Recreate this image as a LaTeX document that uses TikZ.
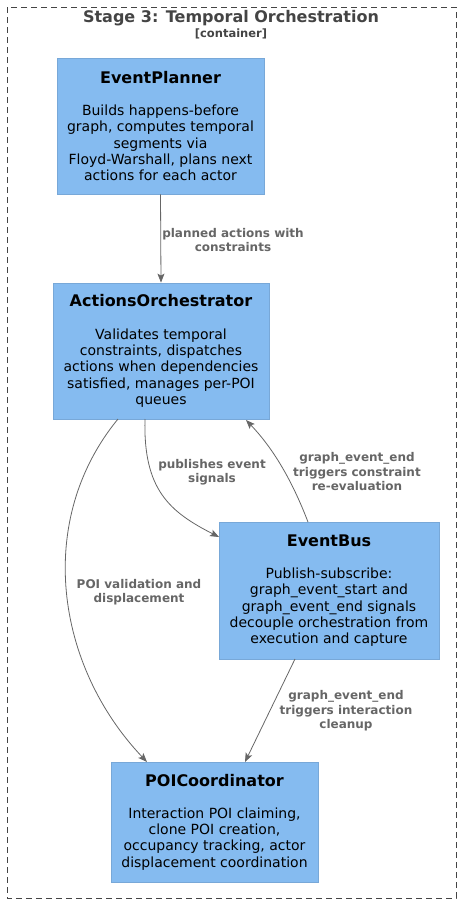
\documentclass[tikz,border=0pt]{standalone}
\usepackage{fontspec}
\setmainfont{DejaVu Sans}
\usetikzlibrary{arrows.meta}
\definecolor{boxfill}{HTML}{85BBF0}
\definecolor{boxline}{HTML}{78A8D8}
\definecolor{edgecol}{HTML}{666666}
\definecolor{contcol}{HTML}{444444}
\tikzset{
  comp/.style={draw=boxline, line width=0.8pt, fill=boxfill, align=center, inner sep=0pt,
    font=\fontsize{14}{16.3}\selectfont},
  arr/.style={draw=edgecol, line width=0.8pt, -{Stealth[length=9pt,width=7pt,inset=2pt]}},
  lbl/.style={text=edgecol, align=center, font=\bfseries\fontsize{12}{14.5}\selectfont, inner sep=0pt},
}
\newcommand{\ttl}[1]{{\bfseries\fontsize{16}{18}\selectfont #1}\\[16pt]}
\begin{document}
\begin{tikzpicture}[x=1pt,y=-1pt]
\useasboundingbox (0,0) rectangle (468,911);
\draw[contcol, line width=0.8pt, dash pattern=on 6pt off 4pt] (7,7) rectangle (456,898);
\node[text=contcol, font=\bfseries\fontsize{16}{18}\selectfont] (ct) at (231,18) {Stage 3: Temporal Orchestration};
\node[text=contcol, font=\bfseries\fontsize{11.5}{13}\selectfont] (cs) at (231,34) {[container]};

\node[comp, minimum width=207pt, minimum height=136pt] (ep) at (160.5,126)
 {\ttl{EventPlanner}Builds happens-before\\graph, computes temporal\\segments via\\Floyd-Warshall, plans next\\actions for each actor};
\node[comp, minimum width=216pt, minimum height=136pt] (ao) at (161,351)
 {\ttl{ActionsOrchestrator}Validates temporal\\constraints, dispatches\\actions when dependencies\\satisfied, manages per-POI\\queues};
\node[comp, minimum width=220pt, minimum height=137pt] (eb) at (329,590.5)
 {\ttl{EventBus}Publish-subscribe:\\graph\_event\_start and\\graph\_event\_end signals\\decouple orchestration from\\execution and capture};
\node[comp, minimum width=207pt, minimum height=120pt] (poi) at (214.5,822)
 {\ttl{POICoordinator}Interaction POI claiming,\\clone POI creation,\\occupancy tracking, actor\\displacement coordination};

\coordinate (ao1) at (145,419);
\coordinate (ao2) at (118,419);
\coordinate (ao3) at (246,420);
\coordinate (eb1) at (219,537);
\coordinate (eb2) at (308,522);
\coordinate (eb3) at (295,659);
\coordinate (p1) at (147,762);
\coordinate (p2) at (245,762);

\draw[arr] (ep.south) -- (ao.north);
\node[lbl] (l1) at (233,240) {planned actions with\\constraints};

\draw[arr] (ao1) .. controls (143,490) and (170,512) .. (eb1);
\node[lbl] (l2) at (212,472) {publishes event\\signals};

\draw[arr] (eb2) .. controls (290,475) and (270,445) .. (ao3);
\node[lbl] (l3) at (357,472) {graph\_event\_end\\triggers constraint\\re-evaluation};

\draw[arr] (ao2) .. controls (35,520) and (55,665) .. (p1);
\node[lbl] (l4) at (139,592) {POI validation and\\displacement};

\draw[arr] (eb3) -- (p2);
\node[lbl] (l5) at (346,711) {graph\_event\_end\\triggers interaction\\cleanup};
\end{tikzpicture}
\end{document}
